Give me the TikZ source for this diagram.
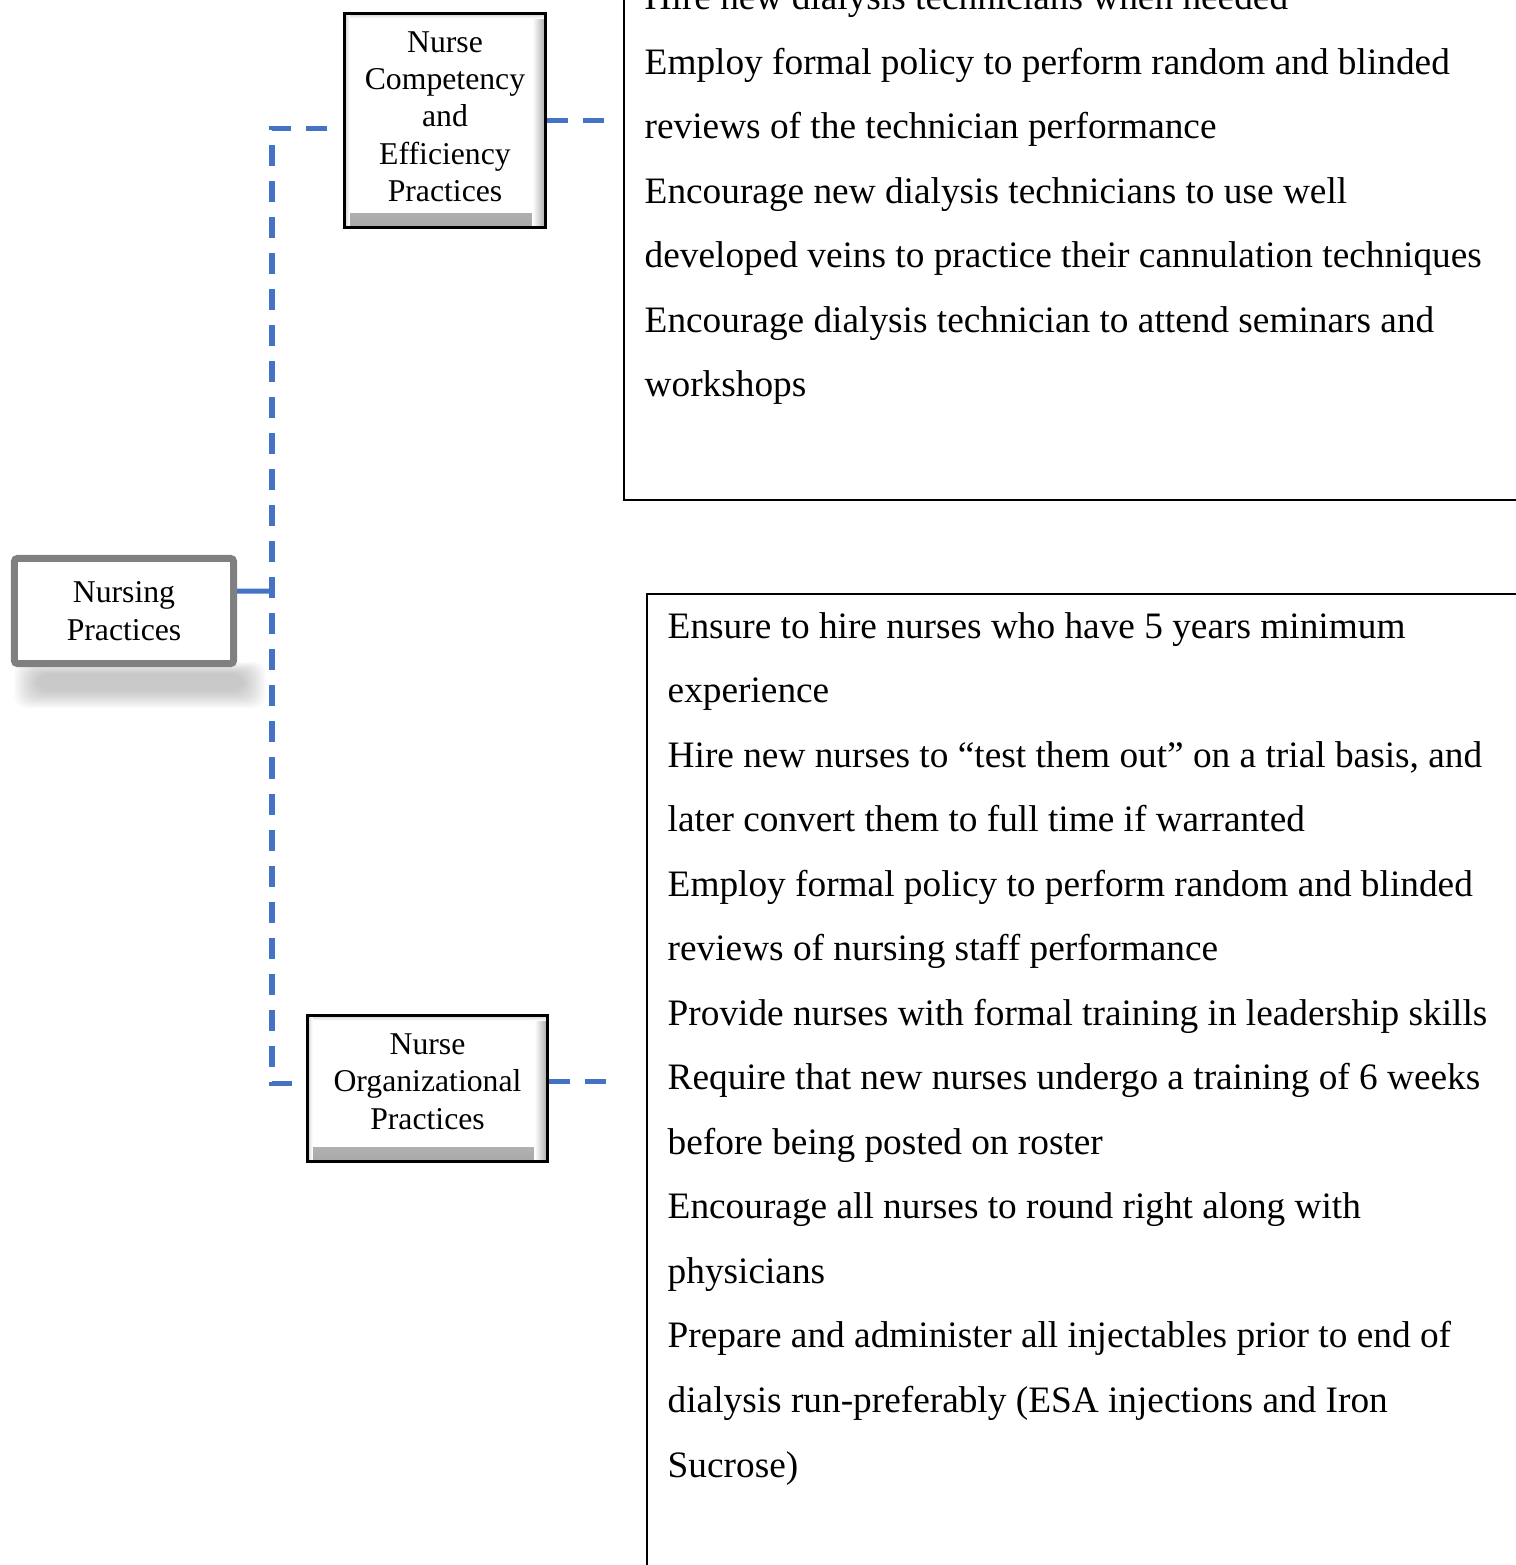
\documentclass[tikz,border=0pt]{standalone}
\usepackage{fontspec}
\setmainfont{Liberation Serif}
\usetikzlibrary{positioning}
\definecolor{linkBlue}{HTML}{4472C4}
\definecolor{frameGray}{HTML}{808080}
\newcommand{\listfont}{\fontsize{10.61}{18.35}\selectfont}
\newcommand{\boxfont}{\fontsize{9.02}{10.6}\selectfont}

\tikzset{
  head/.style={draw=frameGray, line width=0.07cm, fill=white, rounded corners=0.03cm,
    align=center, font=\boxfont, inner sep=0},
  bevel/.style={draw=black, line width=0.03cm, fill=white, inner sep=0,
    path picture={
      \shade[top color=white, bottom color=black!34]
        ([yshift=0.14cm]path picture bounding box.south west) rectangle (path picture bounding box.south east);
      \shade[left color=white, right color=black!34]
        ([xshift=-0.13cm]path picture bounding box.north east) rectangle (path picture bounding box.south east);
      \shade[top color=black!18, bottom color=white]
        (path picture bounding box.north west) rectangle ([yshift=-0.05cm]path picture bounding box.north east);
      \shade[left color=black!18, right color=white]
        (path picture bounding box.north west) rectangle ([xshift=0.05cm]path picture bounding box.south west);
    }},
  boxtext/.style={align=center, font=\boxfont, inner sep=0},
  listbox/.style={draw=black, line width=0.02cm, inner sep=0, outer sep=0},
  listtext/.style={align=left, font=\listfont, inner sep=0, anchor=north west},
  link/.style={draw=linkBlue, line width=0.05cm, dash pattern=on 0.21cm off 0.15cm},
}

\begin{document}
\begin{tikzpicture}[x=0.01cm, y=-0.01cm]
  \useasboundingbox (0,0) rectangle (1516,1565);
  \clip (0,0) rectangle (1516,1565);

  % soft shadow under the main box
  \foreach \i in {0,...,11}
    \fill[black, opacity=0.02, rounded corners=0.12cm] (14+2*\i, 662+\i) rectangle (266-2*\i, 708-1.5*\i);

  \node[head, minimum width=2.19cm, minimum height=1.05cm] (np) at (124,611) {Nursing\\Practices};
  \node[bevel, minimum width=2.01cm, minimum height=2.14cm] (comp) at (445,120.5) {};
  \node[boxtext] (complabel) at ([yshift=0.04cm]comp.center) {Nurse\\Competency\\and\\Efficiency\\Practices};
  \node[bevel, minimum width=2.40cm, minimum height=1.46cm] (org) at (427.5,1088.5) {};
  \node[boxtext] (orglabel) at ([yshift=0.07cm]org.center) {Nurse\\Organizational\\Practices};

  % list boxes
  \node[listbox, minimum width=10cm, minimum height=6.2cm, anchor=south west] (techbox) at (623.5,499.5) {};
  \node[listbox, minimum width=10cm, minimum height=11cm, anchor=north west] (nursebox) at (646.5,593.5) {};

  \node[listtext] (techlist) at (644,-17) {Hire new dialysis technicians when needed\\
    Employ formal policy to perform random and blinded\\
    reviews of the technician performance\\
    Encourage new dialysis technicians to use well\\
    developed veins to practice their cannulation techniques\\
    Encourage dialysis technician to attend seminars and\\
    workshops};
  \node[listtext] (nurselist) at (667,611.5) {Ensure to hire nurses who have 5 years minimum\\
    experience\\
    Hire new nurses to “test them out” on a trial basis, and\\
    later convert them to full time if warranted\\
    Employ formal policy to perform random and blinded\\
    reviews of nursing staff performance\\
    Provide nurses with formal training in leadership skills\\
    Require that new nurses undergo a training of 6 weeks\\
    before being posted on roster\\
    Encourage all nurses to round right along with\\
    physicians\\
    Prepare and administer all injectables prior to end of\\
    dialysis run-preferably (ESA injections and Iron\\
    Sucrose)};

  % connectors
  \coordinate (trunk) at (272,591);
  \coordinate (orgout) at ([yshift=0.075cm]org.east);
  \draw[link, solid] ([yshift=0.2cm]np.east) -- (trunk);
  \draw[link] ([xshift=-0.16cm,yshift=-0.075cm]comp.west) -| (trunk)
    |- ([xshift=-0.11cm,yshift=0.055cm]org.west);
  \draw[link, shorten >=0.16cm] (comp.east) -- (comp.east -| techbox.west);
  \draw[link, shorten >=0.385cm] (orgout) -- (orgout -| nursebox.west);
\end{tikzpicture}
\end{document}
